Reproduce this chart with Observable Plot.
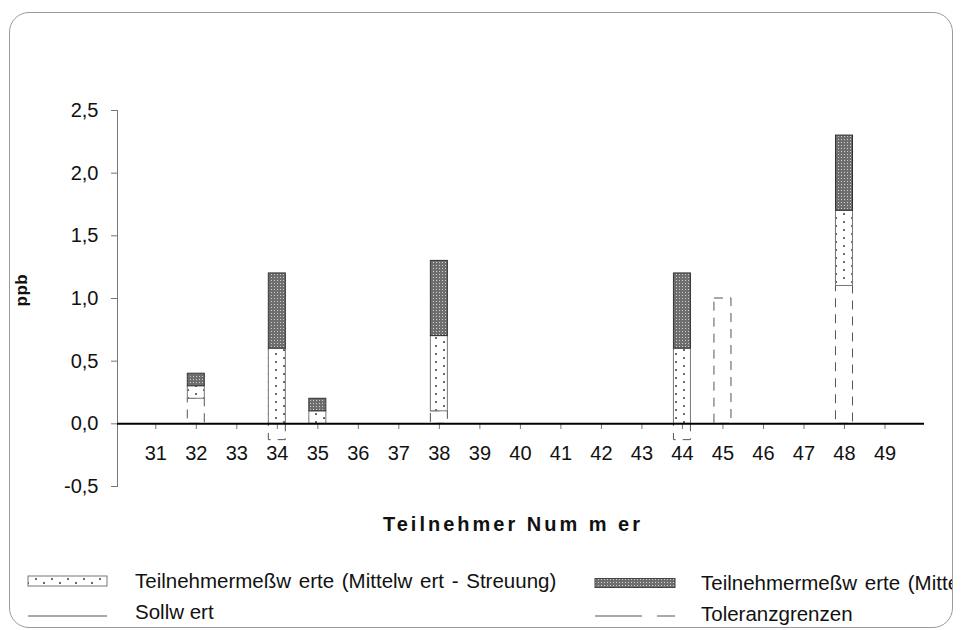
<!DOCTYPE html>
<html>
<head>
<meta charset="utf-8">
<script src="https://cdn.jsdelivr.net/npm/d3@7"></script>
<script src="https://cdn.jsdelivr.net/npm/@observablehq/plot@0.6"></script>
<style>
  body { margin: 0; background: #fff; font-family: "Liberation Sans", Arial, sans-serif; }
  #wrap { position: relative; width: 970px; height: 630px; overflow: hidden; background: #fff; }
  #frame { position: absolute; left: 9px; top: 12px; width: 942px; height: 614px; border: 1px solid #9a9a9a; border-radius: 20px; overflow: hidden; }
  #inner { position: absolute; left: -10px; top: -13px; width: 970px; height: 630px; }
  #chart { position: absolute; left: 0; top: 0; }
  #legend { position: absolute; left: 0; top: 545px; }
</style>
</head>
<body>
<svg id="defs" width="0" height="0" style="position:absolute">
  <defs>
    <pattern id="dots" width="16" height="8" patternUnits="userSpaceOnUse">
      <rect width="16" height="8" fill="#fff"/>
      <rect x="3.2" y="1.2" width="1.7" height="1.7" fill="#333"/>
      <rect x="11.2" y="5.2" width="1.7" height="1.7" fill="#333"/>
    </pattern>
    <pattern id="hatch" width="3" height="3" patternUnits="userSpaceOnUse">
      <rect width="3" height="3" fill="#6e6e6e"/>
      <rect x="1" y="1" width="1" height="1" fill="#d0d0d0"/>
    </pattern>
  </defs>
</svg>
<div id="wrap">
  <div id="frame">
    <div id="inner">
      <div id="chart"></div>
      <svg id="legend" width="970" height="85"></svg>
    </div>
  </div>
</div>
<script>
// ---- data ----
const participants = [31, 32, 33, 34, 35, 36, 37, 38, 39, 40, 41, 42, 43, 44, 45, 46, 47, 48, 49];
// lower segment (Toleranzgrenzen, dashed outline)
const toleranz      = [0, 0.2, 0, -0.13, 0, 0, 0, 0.1, 0, 0, 0, 0, 0, -0.13, 1.0, 0, 0, 1.1, 0];
// Teilnehmermeßwerte (Mittelwert - Streuung), dotted
const mwMinus       = [0, 0.1, 0, 0.6, 0.1, 0, 0, 0.6, 0, 0, 0, 0, 0, 0.6, 0, 0, 0, 0.6, 0];
// Teilnehmermeßwerte (Mittelwert + Streuung), dark
const mwPlus        = [0, 0.1, 0, 0.6, 0.1, 0, 0, 0.6, 0, 0, 0, 0, 0, 0.6, 0, 0, 0, 0.6, 0];
const sollwert = 0;
const yTicks = [-0.5, 0, 0.5, 1.0, 1.5, 2.0, 2.5];
const xTitle = "Teilnehmer Num m er";
const yTitle = "ppb";
const legendLabels = [
  "Teilnehmermeßw erte (Mittelw ert - Streuung)",
  "Teilnehmermeßw erte (Mittelw ert + Streuung)",
  "Sollw ert",
  "Toleranzgrenzen"
];

// ---- derived table (stacking like the spreadsheet chart) ----
const rows = participants.map((p, i) => {
  const base = Math.max(toleranz[i], 0);
  return {
    p,
    tol: toleranz[i],
    lo1: base, lo2: base + mwMinus[i],
    hi1: base + mwMinus[i], hi2: base + mwMinus[i] + mwPlus[i],
    lo: mwMinus[i], hi: mwPlus[i]
  };
});
const fmt = d => d.toFixed(1).replace(".", ",");
const font = "'Liberation Sans', Arial, sans-serif";

const chart = Plot.plot({
  width: 970, height: 545,
  marginTop: 110, marginBottom: 59, marginLeft: 117, marginRight: 46,
  style: { fontFamily: font, fontSize: "20px", color: "#111", background: "transparent" },
  x: { type: "band", domain: participants, paddingInner: 0.58, paddingOuter: 0.75, align: 0.49, round: false },
  y: { domain: [-0.5, 2.5] },
  marks: [
    Plot.frame({ anchor: "left", stroke: "#777" }),
    Plot.axisY({ ticks: yTicks, tickFormat: fmt, tickSize: 6, tickPadding: 13, stroke: "#777", fill: "#111", label: null, fontSize: 20 }),
    Plot.axisX({ ticks: participants, tickSize: 6, tickPadding: 16, dy: -63, stroke: "#777", fill: "#111", label: null, fontSize: 20 }),
    Plot.barY(rows.filter(d => d.tol !== 0), { x: "p", y1: 0, y2: "tol", fill: "none", stroke: "#555", strokeDasharray: "9,7" }),
    Plot.barY(rows.filter(d => d.lo !== 0), { x: "p", y1: "lo1", y2: "lo2", fill: "url(#dots)", stroke: "#777" }),
    Plot.barY(rows.filter(d => d.hi !== 0), { x: "p", y1: "hi1", y2: "hi2", fill: "url(#hatch)", stroke: "#333" }),
    Plot.ruleY([sollwert], { stroke: "#000", strokeWidth: 2 }),
    Plot.text([xTitle], { frameAnchor: "bottom", dy: 44, dx: -8, fontWeight: "bold", fontSize: 20, fill: "#111" }),
    Plot.text([yTitle], { frameAnchor: "left", dx: -96, dy: 8, rotate: -90, fontWeight: "bold", fontSize: 17, fill: "#111" })
  ]
});
document.getElementById("chart").appendChild(chart);
const svgSel = d3.select(chart);
svgSel.selectAll("text").filter(function () { return this.textContent === xTitle; }).attr("letter-spacing", 3);
svgSel.selectAll("text").filter(function () { return this.textContent === yTitle; }).attr("letter-spacing", 0.5);

// align the dot pattern to each dotted bar's own left edge
const defs = d3.select("#defs defs");
svgSel.selectAll("rect").filter(function () { return this.getAttribute("fill") === "url(#dots)"; }).each(function (_, i) {
  const r = this.getBBox();
  const id = "dots" + i;
  const pat = defs.append("pattern").attr("id", id).attr("width", 16).attr("height", 8)
    .attr("patternUnits", "userSpaceOnUse").attr("x", r.x).attr("y", r.y);
  pat.append("rect").attr("width", 16).attr("height", 8).attr("fill", "#fff");
  pat.append("rect").attr("x", 3.2).attr("y", 2.2).attr("width", 1.7).attr("height", 1.7).attr("fill", "#333");
  pat.append("rect").attr("x", 11.2).attr("y", 6.2).attr("width", 1.7).attr("height", 1.7).attr("fill", "#333");
  this.setAttribute("fill", `url(#${id})`);
});

// ---- legend (below the plot svg) ----
const lg = d3.select("#legend");
const oy = 545;
const items = [
  { x: 28, y: 581, kind: "dots", label: legendLabels[0] },
  { x: 595, y: 583, kind: "hatch", label: legendLabels[1] },
  { x: 28, y: 612, kind: "solid", label: legendLabels[2] },
  { x: 595, y: 614, kind: "dash", label: legendLabels[3] }
];
for (const it of items) {
  const cy = it.y - oy;
  if (it.kind === "dots") {
    lg.append("rect").attr("x", it.x).attr("y", cy - 5).attr("width", 79).attr("height", 10).attr("fill", "url(#dots)").attr("stroke", "#777");
  } else if (it.kind === "hatch") {
    lg.append("rect").attr("x", it.x).attr("y", cy - 4.5).attr("width", 80).attr("height", 9).attr("fill", "url(#hatch)").attr("stroke", "#444");
  } else if (it.kind === "solid") {
    lg.append("line").attr("x1", it.x).attr("x2", it.x + 79).attr("y1", cy + 4).attr("y2", cy + 4).attr("stroke", "#555");
  } else {
    lg.append("line").attr("x1", it.x).attr("x2", it.x + 80).attr("y1", cy + 2).attr("y2", cy + 2).attr("stroke", "#555").attr("stroke-dasharray", "47,15");
  }
  const t = lg.append("text").attr("x", it.x + (it.kind === "dots" || it.kind === "solid" ? 107 : 106)).attr("y", cy).attr("dy", "0.35em")
    .attr("font-family", font).attr("font-size", 20.5).attr("fill", "#111").text(it.label);
  if (it.label.startsWith("Teilnehmer")) t.attr("word-spacing", 2);
}
</script>
</body>
</html>
